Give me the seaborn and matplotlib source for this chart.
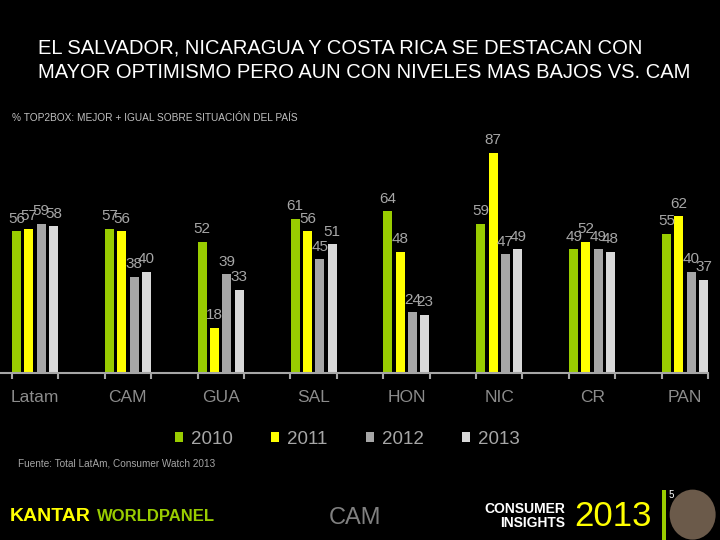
import pandas as pd
import numpy as np
import seaborn as sns
import matplotlib.pyplot as plt
from matplotlib.patches import Ellipse, Rectangle

# =========================
# Data
# =========================
paises = ['Latam', 'CAM', 'GUA', 'SAL', 'HON', 'NIC', 'CR', 'PAN']
anios = ['2010', '2011', '2012', '2013']
v2010 = [56, 57, 52, 61, 64, 59, 49, 55]
v2011 = [57, 56, 18, 56, 48, 87, 52, 62]
v2012 = [59, 38, 39, 45, 24, 47, 49, 40]
v2013 = [58, 40, 33, 51, 23, 49, 48, 37]
colores = ['#99cc00', '#ffff00', '#a6a6a6', '#d9d9d9']

df = pd.DataFrame({
    'pais': paises * 4,
    'anio': np.repeat(anios, len(paises)),
    'valor': v2010 + v2011 + v2012 + v2013,
})

# =========================
# Figure
# =========================
sns.set_theme(style="dark")
plt.rcParams['font.family'] = ['Liberation Sans', 'DejaVu Sans']

fig = plt.figure(figsize=(7.2, 5.4), dpi=100, facecolor='black')
ax = fig.add_axes([0, 0.309, 1, 0.4685])
ax.set_facecolor('black')

sns.barplot(data=df, x='pais', y='valor', hue='anio', palette=colores,
            width=0.53, gap=0.27, errorbar=None, ax=ax, saturation=1,
            linewidth=0, edgecolor='none')

for cont in ax.containers:
    ax.bar_label(cont, padding=4, color='#a6a6a6', fontsize=11)

ax.set_xlim(-0.377, 7.377)
ax.set_ylim(0, 100)
ax.set_xlabel('')
ax.set_ylabel('')
ax.set_yticks([])
ax.grid(False)
for s in ['top', 'left', 'right']:
    ax.spines[s].set_visible(False)
ax.spines['bottom'].set_color('#a6a6a6')
ax.spines['bottom'].set_linewidth(1.5)
ax.spines['bottom'].set_bounds(-0.377, 7.25)

ax.set_xticks(range(len(paises)))
ax.set_xticklabels(paises, color='#8c8c8c', fontsize=12.5)
ax.tick_params(axis='x', which='major', length=0, pad=12)
bordes = [i + d for i in range(len(paises)) for d in (-0.25, 0.25)]
ax.set_xticks(bordes, minor=True)
ax.tick_params(axis='x', which='minor', length=4, width=1.5,
               color='#a6a6a6', direction='out', bottom=True)

# legend
handles, labels = ax.get_legend_handles_labels()
ax.get_legend().remove()
leg = fig.legend(handles, labels, loc='center', bbox_to_anchor=(0.482, 0.187),
                 ncol=4, frameon=False, fontsize=13.5, handlelength=0.45,
                 handleheight=0.45, handletextpad=0.4, columnspacing=2.05)
for t in leg.get_texts():
    t.set_color('#a6a6a6')
for h in leg.legend_handles:
    h.set_edgecolor('none')

# =========================
# Texts
# =========================
fig.text(0.053, 0.911, 'EL SALVADOR, NICARAGUA Y COSTA RICA SE DESTACAN CON',
         color='white', fontsize=14.5, va='center')
fig.text(0.053, 0.865, 'MAYOR OPTIMISMO PERO AUN CON NIVELES MAS BAJOS VS. CAM',
         color='white', fontsize=14.5, va='center')
fig.text(0.017, 0.782, '% TOP2BOX: MEJOR + IGUAL SOBRE SITUACIÓN DEL PAÍS',
         color='#bfbfbf', fontsize=7.3, va='center')
fig.text(0.025, 0.141, 'Fuente: Total LatAm, Consumer Watch 2013',
         color='#a6a6a6', fontsize=7.2, va='center')

# footer
fig.text(0.013, 0.043, 'KANTAR', color='#ffff00', fontsize=14,
         fontweight='bold', va='center')
fig.text(0.135, 0.043, 'WORLDPANEL', color='#99cc00', fontsize=12,
         fontweight='bold', va='center')
fig.text(0.493, 0.04, 'CAM', color='#808080', fontsize=17, va='center', ha='center')
fig.text(0.785, 0.057, 'CONSUMER', color='white', fontsize=10,
         fontweight='bold', va='center', ha='right')
fig.text(0.785, 0.031, 'INSIGHTS', color='white', fontsize=10,
         fontweight='bold', va='center', ha='right')
fig.text(0.797, 0.043, '2013', color='#ffff00', fontsize=25, va='center')
fig.patches.append(Rectangle((0.919, 0.0), 0.006, 0.093, transform=fig.transFigure,
                             facecolor='#99cc00', edgecolor='none'))
fig.text(0.928, 0.083, '5', color='white', fontsize=7, va='center')
fig.patches.append(Ellipse((0.962, 0.047), 46 / 720, 50 / 540,
                           transform=fig.transFigure,
                           facecolor='#6b5a4a', edgecolor='none'))

fig.savefig('out.png', dpi=100, facecolor='black')
